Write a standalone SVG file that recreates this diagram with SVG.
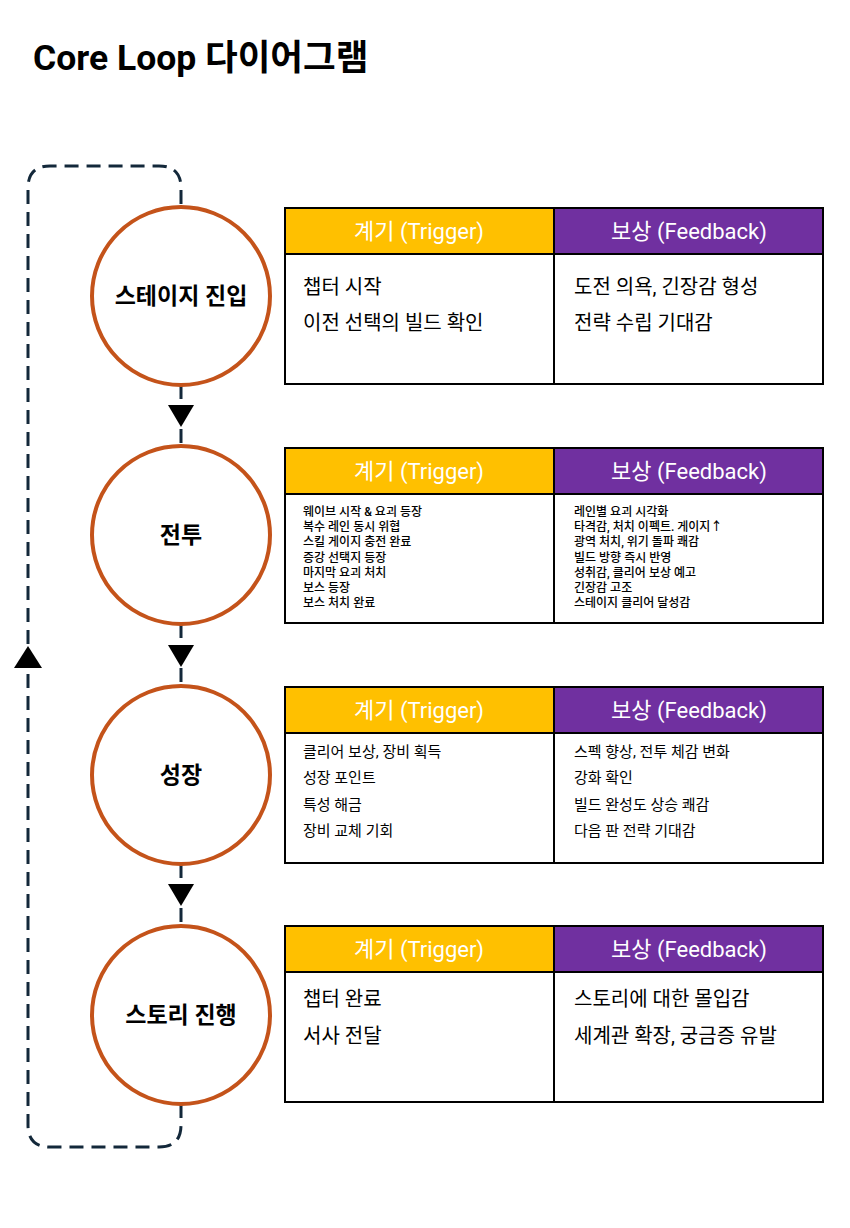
<svg xmlns="http://www.w3.org/2000/svg" xmlns:xlink="http://www.w3.org/1999/xlink" width="850" height="1228" viewBox="0 0 850 1228">
<style>
  text { font-family: Roboto, "Noto Sans CJK KR", "Noto Sans", sans-serif; fill: #000; }
  .title { font-size: 35.5px; font-weight: 700; }
  .node-circle { fill: #fff; stroke: #C4531A; stroke-width: 4; }
  .node-label { font-size: 23px; font-weight: 700; text-anchor: middle; }
  .hdr-trig { fill: #FFC000; }
  .hdr-feed { fill: #7030A0; }
  .hdr-text { font-size: 22px; fill: #fff; text-anchor: middle; }
  .tbl-line { fill: none; stroke: #000; stroke-width: 2; }
  .body-l { font-size: 20px; }
  .body-m { font-size: 15px; }
  .body-s { font-size: 12px; font-weight: 500; }
  .conn { fill: none; stroke: #13283A; stroke-width: 3; stroke-dasharray: 14 8; }
  .arrow { fill: #000; }
</style>
<defs>
  <polygon id="arrowDown" class="arrow" points="-13,-11 13,-11 0,11"/>
  <polygon id="arrowUp" class="arrow" points="-14,11 14,11 0,-11"/>
</defs>
<rect width="850" height="1228" fill="#fff"/>
<text class="title" x="33" y="70">Core Loop 다이어그램</text>

<g id="connectors">
  <path class="conn" d="M181,385 V447"/>
  <path class="conn" d="M181,624 V686"/>
  <path class="conn" d="M181,864 V925"/>
  <path class="conn" d="M181,1104 V1125 Q181,1147 159,1147 H50 Q28,1147 28,1125 V188 Q28,166 50,166 H159 Q181,166 181,188 V207"/>
  <use xlink:href="#arrowDown" x="181" y="416"/>
  <use xlink:href="#arrowDown" x="181" y="656"/>
  <use xlink:href="#arrowDown" x="181" y="895"/>
  <use xlink:href="#arrowUp" x="28" y="657"/>
</g>

<g id="node-stage-entry">
  <circle class="node-circle" cx="181" cy="296" r="89"/>
  <text class="node-label" x="181" y="304">스테이지 진입</text>
</g>
<g id="node-battle">
  <circle class="node-circle" cx="181" cy="535" r="89"/>
  <text class="node-label" x="181" y="543">전투</text>
</g>
<g id="node-growth">
  <circle class="node-circle" cx="181" cy="775" r="89"/>
  <text class="node-label" x="181" y="783">성장</text>
</g>
<g id="node-story">
  <circle class="node-circle" cx="181" cy="1015" r="89"/>
  <text class="node-label" x="181" y="1023">스토리 진행</text>
</g>

<g id="table-stage-entry">
  <rect class="hdr-trig" x="285" y="208" width="269" height="46"/>
  <rect class="hdr-feed" x="554" y="208" width="269" height="46"/>
  <rect class="tbl-line" x="285" y="208" width="538" height="176"/>
  <path class="tbl-line" d="M285,254 H823 M554,208 V384"/>
  <text class="hdr-text" x="419" y="239">계기 (Trigger)</text>
  <text class="hdr-text" x="689" y="239">보상 (Feedback)</text>
  <text class="body-l" x="303" y="294">챕터 시작</text>
  <text class="body-l" x="303" y="330">이전 선택의 빌드 확인</text>
  <text class="body-l" x="574" y="294">도전 의욕, 긴장감 형성</text>
  <text class="body-l" x="574" y="330">전략 수립 기대감</text>
</g>

<g id="table-battle">
  <rect class="hdr-trig" x="285" y="448" width="269" height="46"/>
  <rect class="hdr-feed" x="554" y="448" width="269" height="46"/>
  <rect class="tbl-line" x="285" y="448" width="538" height="175"/>
  <path class="tbl-line" d="M285,494 H823 M554,448 V623"/>
  <text class="hdr-text" x="419" y="479">계기 (Trigger)</text>
  <text class="hdr-text" x="689" y="479">보상 (Feedback)</text>
  <text class="body-s" x="303" y="516">웨이브 시작 &amp; 요괴 등장</text>
  <text class="body-s" x="303" y="531">복수 레인 동시 위협</text>
  <text class="body-s" x="303" y="546">스킬 게이지 충전 완료</text>
  <text class="body-s" x="303" y="562">증강 선택지 등장</text>
  <text class="body-s" x="303" y="577">마지막 요괴 처치</text>
  <text class="body-s" x="303" y="592">보스 등장</text>
  <text class="body-s" x="303" y="607">보스 처치 완료</text>
  <text class="body-s" x="574" y="516">레인별 요괴 시각화</text>
  <text class="body-s" x="574" y="531">타격감, 처치 이펙트. 게이지↑</text>
  <text class="body-s" x="574" y="546">광역 처치, 위기 돌파 쾌감</text>
  <text class="body-s" x="574" y="562">빌드 방향 즉시 반영</text>
  <text class="body-s" x="574" y="577">성취감, 클리어 보상 예고</text>
  <text class="body-s" x="574" y="592">긴장감 고조</text>
  <text class="body-s" x="574" y="607">스테이지 클리어 달성감</text>
</g>

<g id="table-growth">
  <rect class="hdr-trig" x="285" y="687" width="269" height="46"/>
  <rect class="hdr-feed" x="554" y="687" width="269" height="46"/>
  <rect class="tbl-line" x="285" y="687" width="538" height="176"/>
  <path class="tbl-line" d="M285,733 H823 M554,687 V863"/>
  <text class="hdr-text" x="419" y="718">계기 (Trigger)</text>
  <text class="hdr-text" x="689" y="718">보상 (Feedback)</text>
  <text class="body-m" x="303" y="757">클리어 보상, 장비 획득</text>
  <text class="body-m" x="303" y="783">성장 포인트</text>
  <text class="body-m" x="303" y="810">특성 해금</text>
  <text class="body-m" x="303" y="836">장비 교체 기회</text>
  <text class="body-m" x="574" y="757">스펙 향상, 전투 체감 변화</text>
  <text class="body-m" x="574" y="783">강화 확인</text>
  <text class="body-m" x="574" y="810">빌드 완성도 상승 쾌감</text>
  <text class="body-m" x="574" y="836">다음 판 전략 기대감</text>
</g>

<g id="table-story">
  <rect class="hdr-trig" x="285" y="926" width="269" height="46"/>
  <rect class="hdr-feed" x="554" y="926" width="269" height="46"/>
  <rect class="tbl-line" x="285" y="926" width="538" height="176"/>
  <path class="tbl-line" d="M285,972 H823 M554,926 V1102"/>
  <text class="hdr-text" x="419" y="957">계기 (Trigger)</text>
  <text class="hdr-text" x="689" y="957">보상 (Feedback)</text>
  <text class="body-l" x="303" y="1006">챕터 완료</text>
  <text class="body-l" x="303" y="1043">서사 전달</text>
  <text class="body-l" x="574" y="1006">스토리에 대한 몰입감</text>
  <text class="body-l" x="574" y="1043">세계관 확장, 궁금증 유발</text>
</g>
</svg>
